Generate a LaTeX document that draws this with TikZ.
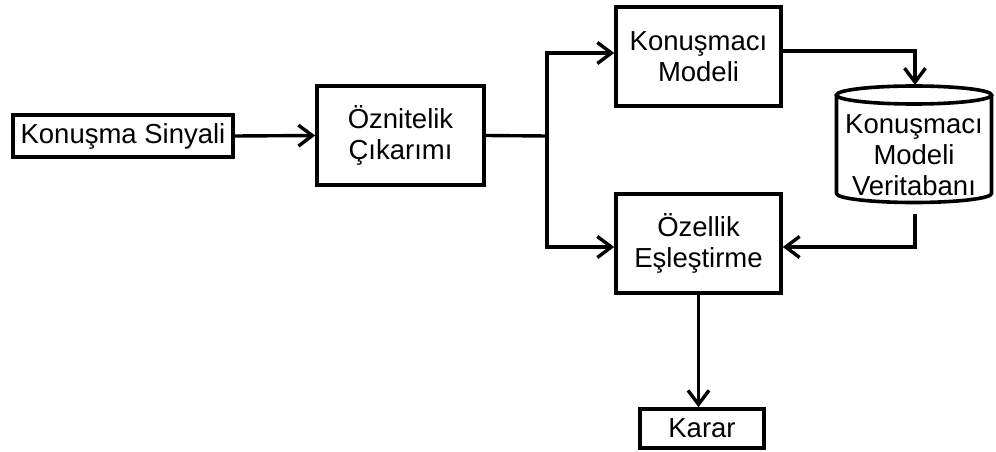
\documentclass[tikz,border=0pt]{standalone}
\usepackage{fontspec}
\setmainfont{Liberation Sans}
\usetikzlibrary{arrows.meta}
\begin{document}
\begin{tikzpicture}[x=1pt,y=-1pt,
  txt/.style={align=center, inner sep=0pt, font=\fontsize{27.5}{31}\selectfont},
  box/.style={txt, draw, line width=3.6pt},
  conn/.style={line width=3.4pt, line cap=rect},
  arr/.style={conn, -{Straight Barb[length=14pt,width=21pt]}}]
\useasboundingbox (0,0) rectangle (996,452);
\fill[white] (0,0) rectangle (996,452);

% processing blocks
\node[box, minimum width=220pt, minimum height=42pt] (sig) at (123,136) {Konuşma Sinyali};
\node[box, minimum width=167pt, minimum height=99pt] (ozn) at (400.5,135.5) {Öznitelik\\Çıkarımı};
\node[box, minimum width=165pt, minimum height=99pt] (km) at (698.5,56.5) {Konuşmacı\\Modeli};
\node[box, minimum width=165pt, minimum height=99pt] (oz) at (698.5,243.5) {Özellik\\Eşleştirme};
\node[box, minimum width=124pt, minimum height=39pt] (karar) at (702,428.5) {Karar};

% database cylinder
\draw[line width=3.6pt] (836.5,95) -- (836.5,193.5)
  arc[start angle=180, end angle=360, x radius=77.5, y radius=-9]
  -- (991.5,95);
\draw[line width=3.6pt] (914,95) ellipse[x radius=77.5, y radius=9];
\node[txt] (db) at (914,155) {Konuşmacı\\Modeli\\Veritabanı};
\coordinate (dbtop) at (915,85);
\coordinate (dbout) at (915,216);

% connectors
\coordinate (br) at (547,136);
\draw[arr] (sig.east) -- (ozn.west);
\draw[conn] (ozn.east) -- (br);
\draw[arr] (br) |- ([yshift=3.5pt]km.west);
\draw[arr] (br) |- ([yshift=-3.5pt]oz.west);
\draw[arr] ([yshift=5.5pt]km.east) -| (dbtop);
\draw[arr] (dbout) |- ([yshift=-3.5pt]oz.east);
\draw[arr] (oz.south) -- (oz.south |- karar.north);
\end{tikzpicture}
\end{document}
